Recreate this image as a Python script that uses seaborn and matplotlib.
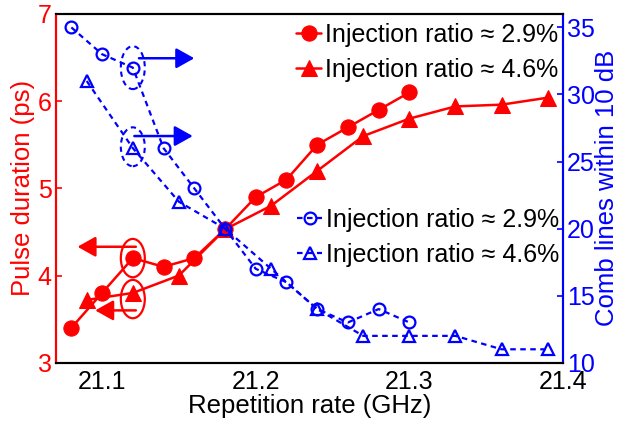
import matplotlib
matplotlib.use("Agg")
import matplotlib.pyplot as plt
from matplotlib.patches import Ellipse
import seaborn as sns
import pandas as pd

# ---- data ----
rate_29 = [21.08, 21.10, 21.12, 21.14, 21.16, 21.18, 21.20, 21.22, 21.24, 21.26, 21.28, 21.30]
pulse_29 = [3.4, 3.8, 4.2, 4.1, 4.2, 4.53, 4.9, 5.1, 5.5, 5.7, 5.9, 6.1]
comb_29 = [35, 33, 32, 26, 23, 20, 17, 16, 14, 13, 14, 13]

rate_46 = [21.09, 21.12, 21.15, 21.18, 21.21, 21.24, 21.27, 21.30, 21.33, 21.36, 21.39]
pulse_46 = [3.72, 3.8, 4.0, 4.53, 4.8, 5.2, 5.6, 5.8, 5.94, 5.96, 6.04]
comb_46 = [31, 26, 22, 20, 17, 14, 12, 12, 12, 11, 11]

label_29 = "Injection ratio \u2248 2.9%"
label_46 = "Injection ratio \u2248 4.6%"
x_label = "Repetition rate (GHz)"
y_left_label = "Pulse duration (ps)"
y_right_label = "Comb lines within 10 dB"
x_ticks = [21.1, 21.2, 21.3, 21.4]
y_left_ticks = [3, 4, 5, 6, 7]
y_right_ticks = [10, 15, 20, 25, 30, 35]

RED = "#ff0000"
BLUE = "#0000ff"

sns.set_style("white")
plt.rcParams["font.family"] = ["Liberation Sans", "DejaVu Sans"]
plt.rcParams["font.size"] = 18
plt.rcParams["text.color"] = "black"
plt.rcParams["axes.labelcolor"] = "black"
plt.rcParams["xtick.color"] = "black"
plt.rcParams["ytick.color"] = "black"

df29 = pd.DataFrame({"rate": rate_29, "pulse": pulse_29, "comb": comb_29})
df46 = pd.DataFrame({"rate": rate_46, "pulse": pulse_46, "comb": comb_46})

fig = plt.figure(figsize=(6.24, 4.23), dpi=100)
L, R, T, B = 56, 563, 14, 362.7
ax = fig.add_axes([L / 624, (423 - B) / 423, (R - L) / 624, (B - T) / 423])
ax2 = ax.twinx()

# red series (pulse duration)
sns.lineplot(data=df29, x="rate", y="pulse", ax=ax, color=RED, marker="o",
             markersize=11, markeredgecolor=RED, linewidth=1.8, legend=False, sort=False)
sns.lineplot(data=df46, x="rate", y="pulse", ax=ax, color=RED, marker="^",
             markersize=12, markeredgecolor=RED, linewidth=1.8, legend=False, sort=False)

# blue series (comb lines)
dash = (0, (2.5, 2))
sns.lineplot(data=df29, x="rate", y="comb", ax=ax2, color=BLUE, marker="o",
             markersize=8.5, markerfacecolor="none", markeredgecolor=BLUE,
             markeredgewidth=1.6, linewidth=1.6, linestyle=dash, legend=False, sort=False)
sns.lineplot(data=df46, x="rate", y="comb", ax=ax2, color=BLUE, marker="^",
             markersize=9, markerfacecolor="none", markeredgecolor=BLUE,
             markeredgewidth=1.6, linewidth=1.6, linestyle=dash, legend=False, sort=False)

ax.set_xlim(21.07, 21.4)
ax.set_ylim(3, 7)
ax2.set_ylim(10, 36)
ax.set_xticks(x_ticks)
ax.set_xticklabels([f"{v:.1f}" for v in x_ticks])
ax.set_yticks(y_left_ticks)
ax2.set_yticks(y_right_ticks)

ax.set_xlabel(x_label, fontsize=18.5, labelpad=0, color="black")
ax.set_ylabel(y_left_label, color=RED, fontsize=18.5, labelpad=2)
ax2.set_ylabel(y_right_label, color=BLUE, fontsize=18.5, labelpad=0)

for a in (ax, ax2):
    for s in a.spines.values():
        s.set_linewidth(1.5)
        s.set_visible(True)
ax.spines["left"].set_color(RED)
ax.spines["bottom"].set_color("black")
ax.spines["top"].set_color("black")
ax2.spines["right"].set_color(BLUE)
ax2.spines["left"].set_color(RED)
ax2.spines["top"].set_color("black")
ax2.spines["bottom"].set_color("black")

ax.tick_params(axis="x", direction="in", length=4, width=1.2, colors="black",
               labelsize=18, pad=5)
ax.tick_params(axis="y", direction="in", length=4, width=1.2, colors=RED,
               labelsize=18, pad=3)
ax2.tick_params(axis="y", direction="in", length=4, width=1.2, colors=BLUE,
                labelsize=18, pad=3)

# ---- annotations: ellipses + arrows ----
ew = 0.0156
i29 = rate_29.index(21.12)
i46 = rate_46.index(21.12)
ax.add_patch(Ellipse((rate_29[i29], pulse_29[i29]), ew, 0.44, fill=False,
                     edgecolor=RED, lw=1.6))
ax.add_patch(Ellipse((rate_46[i46], pulse_46[i46] - 0.07), ew, 0.44, fill=False,
                     edgecolor=RED, lw=1.6))
arrow_red = dict(arrowstyle="-|>,head_length=0.5,head_width=0.28", color=RED, lw=1.8,
                 mutation_scale=22, shrinkA=0, shrinkB=0)
ax.annotate("", xy=(rate_29[i29] - 0.036, pulse_29[i29] + 0.13),
            xytext=(rate_29[i29] + 0.002, pulse_29[i29] + 0.13), arrowprops=arrow_red)
ax.annotate("", xy=(rate_46[i46] - 0.0245, pulse_46[i46] - 0.2),
            xytext=(rate_46[i46] + 0.002, pulse_46[i46] - 0.2), arrowprops=arrow_red)

ax2.add_patch(Ellipse((rate_29[i29], comb_29[i29]), ew, 3.2, fill=False,
                      edgecolor=BLUE, lw=1.5, linestyle=(0, (2.5, 2))))
ax2.add_patch(Ellipse((rate_46[i46], comb_46[i46] + 0.1), ew, 2.9, fill=False,
                      edgecolor=BLUE, lw=1.5, linestyle=(0, (2.5, 2))))
arrow_blue = dict(arrowstyle="-|>,head_length=0.5,head_width=0.28", color=BLUE, lw=1.8,
                  mutation_scale=22, shrinkA=0, shrinkB=0)
ax2.annotate("", xy=(rate_29[i29] + 0.04, comb_29[i29] + 0.7),
             xytext=(rate_29[i29] + 0.004, comb_29[i29] + 0.7), arrowprops=arrow_blue)
ax2.annotate("", xy=(rate_46[i46] + 0.039, comb_46[i46] + 0.9),
             xytext=(rate_46[i46] + 0.001, comb_46[i46] + 0.9), arrowprops=arrow_blue)

# ---- legends ----
red_handles = ax.lines[:2]
blue_handles = ax2.lines[:2]
leg1 = ax.legend(red_handles, [label_29, label_46], loc="upper right",
                 bbox_to_anchor=(1.008, 1.0), frameon=False, fontsize=18,
                 handlelength=1.0, handletextpad=0.15, labelspacing=0.45,
                 borderaxespad=0.15, borderpad=0.2)
leg2 = ax2.legend(blue_handles, [label_29, label_46], loc="upper right",
                  bbox_to_anchor=(1.0, 0.455), frameon=False, fontsize=18,
                  handlelength=1.0, handletextpad=0.15, labelspacing=0.45,
                  borderaxespad=0.05, borderpad=0.1)
for lg in (leg1, leg2):
    for t in lg.get_texts():
        t.set_color("black")

fig.savefig("out.png", dpi=100)
